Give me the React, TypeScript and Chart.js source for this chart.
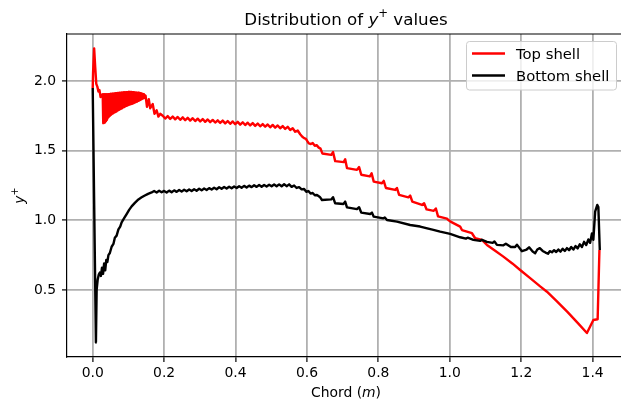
import React, { useEffect, useRef } from 'react';
import { Chart, registerables } from 'chart.js';

Chart.register(...registerables);

const SERIES_LABELS = ['Top shell', 'Bottom shell'];
const SERIES_COLORS = ['#ff0000', '#000000'];
const X_TICKS = [0, 0.2, 0.4, 0.6, 0.8, 1.0, 1.2, 1.4];
const Y_TICKS = [0.5, 1.0, 1.5, 2.0];

// Top shell: [chord, y+]
const TOP_SHELL: [number, number][] = [
  [0.000, 1.950], [0.001, 2.060], [0.004, 2.235], [0.007, 2.100], [0.010, 1.980],
  [0.013, 1.960], [0.016, 1.925], [0.019, 1.935], [0.022, 1.885], [0.025, 1.900],
  [0.0280, 1.905], [0.0295, 1.698], [0.0310, 1.905], [0.0325, 1.702], [0.0340, 1.905],
  [0.0355, 1.712], [0.0370, 1.905], [0.0385, 1.722], [0.0400, 1.905], [0.0415, 1.732],
  [0.0430, 1.905], [0.0445, 1.742], [0.0460, 1.906], [0.0475, 1.750], [0.0490, 1.907],
  [0.0505, 1.757], [0.0520, 1.908], [0.0535, 1.763], [0.0550, 1.909], [0.0565, 1.768],
  [0.0580, 1.910], [0.0595, 1.773], [0.0610, 1.911], [0.0625, 1.778], [0.0640, 1.912],
  [0.0655, 1.783], [0.0670, 1.913], [0.0685, 1.788], [0.0700, 1.914], [0.0715, 1.793],
  [0.0730, 1.915], [0.0745, 1.797], [0.0760, 1.916], [0.0775, 1.801], [0.0790, 1.917],
  [0.0805, 1.805], [0.0820, 1.918], [0.0835, 1.808], [0.0850, 1.918], [0.0865, 1.812],
  [0.0880, 1.919], [0.0895, 1.816], [0.0910, 1.919], [0.0925, 1.820], [0.0940, 1.920],
  [0.0955, 1.823], [0.0970, 1.920], [0.0985, 1.827], [0.1000, 1.921], [0.1015, 1.830],
  [0.1030, 1.921], [0.1045, 1.833], [0.1060, 1.921], [0.1075, 1.836], [0.1090, 1.921],
  [0.1105, 1.839], [0.1120, 1.920], [0.1135, 1.842], [0.1150, 1.920], [0.1165, 1.846],
  [0.1180, 1.919], [0.1195, 1.849], [0.1210, 1.918], [0.1225, 1.852], [0.1240, 1.917],
  [0.1255, 1.855], [0.1270, 1.916], [0.1285, 1.858], [0.1300, 1.915], [0.1315, 1.862],
  [0.1330, 1.913], [0.1345, 1.866], [0.1360, 1.910], [0.1375, 1.870], [0.1390, 1.908],
  [0.1405, 1.874], [0.1420, 1.905], [0.1435, 1.878], [0.1450, 1.900],
  [0.148, 1.895], [0.152, 1.815], [0.157, 1.870], [0.161, 1.805], [0.168, 1.835],
  [0.173, 1.765], [0.179, 1.790], [0.184, 1.745], [0.189, 1.765],
  [0.196, 1.751], [0.203, 1.731], [0.210, 1.748], [0.217, 1.728], [0.224, 1.745],
  [0.231, 1.725], [0.238, 1.742], [0.245, 1.722], [0.252, 1.739], [0.259, 1.719],
  [0.266, 1.736], [0.273, 1.716], [0.280, 1.733], [0.287, 1.713], [0.294, 1.730],
  [0.301, 1.710], [0.308, 1.727], [0.315, 1.707], [0.322, 1.724], [0.329, 1.705],
  [0.336, 1.721], [0.343, 1.702], [0.350, 1.718], [0.357, 1.699], [0.364, 1.716],
  [0.371, 1.696], [0.378, 1.713], [0.385, 1.693], [0.392, 1.710], [0.399, 1.690],
  [0.406, 1.707], [0.413, 1.687], [0.420, 1.704], [0.427, 1.684], [0.434, 1.701],
  [0.441, 1.681], [0.448, 1.698], [0.455, 1.678], [0.462, 1.695], [0.469, 1.675],
  [0.476, 1.691], [0.483, 1.672], [0.490, 1.688], [0.497, 1.668], [0.504, 1.685],
  [0.511, 1.665], [0.518, 1.681], [0.525, 1.661], [0.532, 1.677], [0.539, 1.656],
  [0.546, 1.671], [0.553, 1.649], [0.560, 1.661], [0.567, 1.636], [0.574, 1.645],
  [0.581, 1.618], [0.587, 1.600], [0.592, 1.590], [0.597, 1.585], [0.601, 1.568],
  [0.605, 1.552], [0.611, 1.548], [0.616, 1.555], [0.622, 1.535], [0.627, 1.540],
  [0.633, 1.522], [0.638, 1.515], [0.643, 1.480], [0.668, 1.470], [0.673, 1.490],
  [0.679, 1.425], [0.703, 1.418], [0.707, 1.438], [0.712, 1.375], [0.740, 1.362],
  [0.746, 1.382], [0.752, 1.327], [0.776, 1.315], [0.781, 1.337], [0.787, 1.278],
  [0.810, 1.266], [0.815, 1.283], [0.821, 1.232], [0.847, 1.218], [0.852, 1.232],
  [0.858, 1.182], [0.884, 1.165], [0.889, 1.178], [0.895, 1.134], [0.922, 1.110],
  [0.928, 1.122], [0.935, 1.078], [0.955, 1.068], [0.961, 1.085], [0.967, 1.028],
  [0.992, 1.012], [0.997, 1.000], [1.002, 0.990], [1.029, 0.954], [1.034, 0.930],
  [1.062, 0.907], [1.071, 0.871], [1.090, 0.859], [1.104, 0.823], [1.125, 0.785],
  [1.150, 0.739], [1.175, 0.690], [1.197, 0.643], [1.225, 0.585], [1.253, 0.525],
  [1.272, 0.487], [1.300, 0.418], [1.330, 0.340], [1.360, 0.258], [1.384, 0.190],
  [1.402, 0.284], [1.414, 0.289], [1.419, 0.787],
];

// Bottom shell: [chord, y+]
const BOTTOM_SHELL: [number, number][] = [
  [0.000, 1.950], [0.009, 0.123], [0.011, 0.500], [0.014, 0.575], [0.017, 0.610],
  [0.020, 0.625], [0.023, 0.600], [0.026, 0.660], [0.029, 0.615], [0.032, 0.690],
  [0.035, 0.640], [0.038, 0.715], [0.041, 0.700], [0.044, 0.750], [0.048, 0.765],
  [0.053, 0.810], [0.058, 0.830], [0.062, 0.875], [0.067, 0.890], [0.072, 0.935],
  [0.077, 0.955], [0.081, 0.985], [0.088, 1.015], [0.095, 1.045], [0.102, 1.075],
  [0.109, 1.100], [0.118, 1.125], [0.128, 1.150], [0.137, 1.165], [0.146, 1.178],
  [0.155, 1.190], [0.165, 1.200], [0.172, 1.210], [0.179, 1.200], [0.186, 1.212],
  [0.193, 1.201],
  [0.200, 1.211], [0.207, 1.200], [0.214, 1.213], [0.221, 1.202], [0.228, 1.215],
  [0.235, 1.204], [0.242, 1.217], [0.249, 1.206], [0.256, 1.219], [0.263, 1.208],
  [0.270, 1.221], [0.277, 1.210], [0.284, 1.223], [0.291, 1.212], [0.298, 1.226],
  [0.305, 1.215], [0.312, 1.228], [0.319, 1.218], [0.326, 1.231], [0.333, 1.221],
  [0.340, 1.234], [0.347, 1.223], [0.354, 1.237], [0.361, 1.226], [0.368, 1.239],
  [0.375, 1.228], [0.382, 1.241], [0.389, 1.230], [0.396, 1.243], [0.403, 1.232],
  [0.410, 1.245], [0.417, 1.234], [0.424, 1.247], [0.431, 1.236], [0.438, 1.249],
  [0.445, 1.238], [0.452, 1.251], [0.459, 1.240], [0.466, 1.253], [0.473, 1.241],
  [0.480, 1.254], [0.487, 1.243], [0.494, 1.255], [0.501, 1.244], [0.508, 1.257],
  [0.515, 1.244], [0.522, 1.258], [0.529, 1.244], [0.536, 1.259], [0.543, 1.245],
  [0.550, 1.258], [0.557, 1.240], [0.564, 1.250], [0.571, 1.232],
  [0.578, 1.238], [0.585, 1.222], [0.592, 1.225], [0.598, 1.205], [0.604, 1.210],
  [0.610, 1.192], [0.616, 1.196], [0.622, 1.180], [0.628, 1.182], [0.636, 1.168],
  [0.642, 1.146], [0.668, 1.150], [0.673, 1.166], [0.679, 1.122], [0.702, 1.117],
  [0.707, 1.134], [0.712, 1.093], [0.740, 1.080], [0.746, 1.094], [0.752, 1.055],
  [0.777, 1.045], [0.782, 1.055], [0.787, 1.026], [0.814, 1.014], [0.818, 1.020],
  [0.824, 1.002], [0.852, 0.990], [0.889, 0.966], [0.917, 0.955], [0.954, 0.931],
  [0.973, 0.918], [1.001, 0.902], [1.029, 0.878], [1.045, 0.868], [1.050, 0.875],
  [1.066, 0.859], [1.085, 0.852], [1.090, 0.860], [1.104, 0.845], [1.120, 0.838],
  [1.125, 0.848], [1.132, 0.823], [1.150, 0.820], [1.157, 0.832], [1.171, 0.808],
  [1.183, 0.808], [1.188, 0.825], [1.202, 0.778], [1.215, 0.790], [1.222, 0.806],
  [1.232, 0.775], [1.239, 0.763], [1.245, 0.790], [1.252, 0.800], [1.260, 0.780],
  [1.268, 0.768], [1.275, 0.760], [1.280, 0.778], [1.286, 0.770], [1.292, 0.785],
  [1.298, 0.772], [1.304, 0.790], [1.310, 0.775], [1.316, 0.795], [1.322, 0.780],
  [1.328, 0.800], [1.334, 0.785], [1.340, 0.808], [1.346, 0.790], [1.352, 0.815],
  [1.358, 0.798], [1.364, 0.828], [1.370, 0.808], [1.376, 0.845], [1.382, 0.822],
  [1.388, 0.862], [1.393, 0.838], [1.398, 0.905], [1.402, 0.860], [1.407, 1.062],
  [1.413, 1.110], [1.416, 1.095], [1.420, 0.787],
];

const FONT = "'DejaVu Sans', 'Liberation Sans', sans-serif";
const W = 621;
const H = 408;

type Part = { t: string; it?: boolean; sup?: boolean };

function partFont(p: Part, size: number) {
  return `${p.it ? 'italic ' : ''}${p.sup ? size * 0.7 : size}px ${FONT}`;
}

function drawRich(ctx: CanvasRenderingContext2D, parts: Part[], x: number, y: number, size: number) {
  const widths = parts.map((p) => {
    ctx.font = partFont(p, size);
    return ctx.measureText(p.t).width;
  });
  const total = widths.reduce((a, b) => a + b, 0);
  let cx = x - total / 2;
  ctx.textAlign = 'left';
  ctx.textBaseline = 'alphabetic';
  parts.forEach((p, i) => {
    ctx.font = partFont(p, size);
    ctx.fillText(p.t, cx, p.sup ? y - size * 0.42 : y);
    cx += widths[i];
  });
}

const decorPlugin = {
  id: 'decor',
  afterDraw(chart: any) {
    const ctx: CanvasRenderingContext2D = chart.ctx;
    const a = chart.chartArea;
    ctx.save();
    // top spine
    ctx.strokeStyle = '#000';
    ctx.lineWidth = 1.2;
    ctx.beginPath();
    ctx.moveTo(a.left, a.top);
    ctx.lineTo(a.right, a.top);
    ctx.stroke();

    ctx.fillStyle = '#000';
    const cx = 346;
    // title
    drawRich(ctx, [{ t: 'Distribution of ' }, { t: 'y', it: true }, { t: '+', sup: true }, { t: ' values' }], cx, 24.5, 16.7);
    // x label
    drawRich(ctx, [{ t: 'Chord (' }, { t: 'm', it: true }, { t: ')' }], cx, 397, 13.9);
    // y label
    ctx.save();
    ctx.translate(24, (a.top + a.bottom) / 2);
    ctx.rotate(-Math.PI / 2);
    drawRich(ctx, [{ t: 'y', it: true }, { t: '+', sup: true }], 0, 0, 13.9);
    ctx.restore();

    // legend
    const bx = 466.5, by = 41.5, bw = 150, bh = 48.5;
    ctx.beginPath();
    ctx.roundRect(bx, by, bw, bh, 3);
    ctx.fillStyle = 'rgba(255,255,255,0.8)';
    ctx.fill();
    ctx.strokeStyle = '#cccccc';
    ctx.lineWidth = 1;
    ctx.stroke();
    const rows = [53.5, 75.5];
    chart.data.datasets.forEach((ds: any, i: number) => {
      ctx.strokeStyle = ds.borderColor;
      ctx.lineWidth = 2.4;
      ctx.beginPath();
      ctx.moveTo(472, rows[i]);
      ctx.lineTo(505, rows[i]);
      ctx.stroke();
      ctx.fillStyle = '#000';
      ctx.font = `14.8px ${FONT}`;
      ctx.textAlign = 'left';
      ctx.textBaseline = 'alphabetic';
      ctx.fillText(ds.label, 516, rows[i] + 5.5);
    });
    ctx.restore();
  },
};

export default function App() {
  const ref = useRef<HTMLCanvasElement | null>(null);

  useEffect(() => {
    if (!ref.current) return;
    const series = [TOP_SHELL, BOTTOM_SHELL];
    const chart = new Chart(ref.current, {
      type: 'scatter',
      data: {
        datasets: series.map((s, i) => ({
          label: SERIES_LABELS[i],
          data: s.map(([x, y]) => ({ x, y })),
          showLine: true,
          borderColor: SERIES_COLORS[i],
          backgroundColor: SERIES_COLORS[i],
          borderWidth: 2.4,
          borderJoinStyle: 'round' as const,
          pointRadius: 0,
          pointHoverRadius: 0,
          tension: 0,
          order: i === 0 ? 1 : 0,
        })),
      },
      options: {
        responsive: false,
        animation: false,
        devicePixelRatio: 1,
        layout: { padding: { top: 34, left: 0, right: 0, bottom: 0 } },
        plugins: {
          legend: { display: false },
          title: { display: false },
          tooltip: { enabled: false },
        },
        scales: {
          x: {
            type: 'linear',
            min: -0.072,
            max: 1.4794,
            afterFit: (s: any) => { s.height = 51; },
            afterBuildTicks: (s: any) => { s.ticks = X_TICKS.map((v) => ({ value: v })); },
            ticks: {
              color: '#000',
              font: { family: FONT, size: 13.9 },
              padding: 3,
              maxRotation: 0,
              autoSkip: false,
              callback: (v: any) => Number(v).toFixed(1),
            },
            grid: { color: '#b0b0b0', lineWidth: 1.8, tickColor: '#000', tickLength: 5, tickWidth: 1.2 },
            border: { display: true, color: '#000', width: 1.2 },
          },
          y: {
            type: 'linear',
            min: 0.018,
            max: 2.338,
            afterFit: (s: any) => { s.width = 67; },
            afterBuildTicks: (s: any) => { s.ticks = Y_TICKS.map((v) => ({ value: v })); },
            ticks: {
              color: '#000',
              font: { family: FONT, size: 13.9 },
              padding: 6,
              autoSkip: false,
              callback: (v: any) => Number(v).toFixed(1),
            },
            grid: { color: '#b0b0b0', lineWidth: 1.8, tickColor: '#000', tickLength: 5, tickWidth: 1.2 },
            border: { display: true, color: '#000', width: 1.2 },
          },
        },
      },
      plugins: [decorPlugin],
    });
    return () => chart.destroy();
  }, []);

  return (
    <div style={{ position: 'absolute', left: 0, top: 0, width: W, height: H, background: '#fff' }}>
      <canvas ref={ref} width={W} height={H} style={{ display: 'block', width: W, height: H }} />
    </div>
  );
}
